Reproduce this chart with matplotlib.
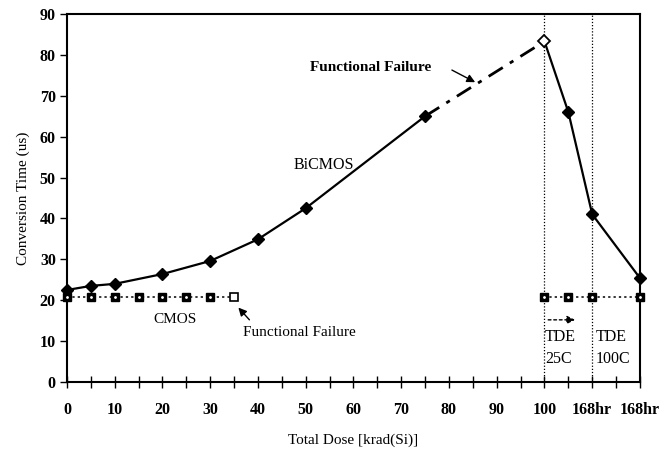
import matplotlib
matplotlib.use("Agg")
import matplotlib.pyplot as plt

plt.rcParams['font.family'] = ['Liberation Serif', 'DejaVu Serif']

# Data (x positions: 100 = 100 krad, 110 = TDE 25C 168hr, 120 = TDE 100C 168hr)
bicmos_x = [0, 5, 10, 20, 30, 40, 50, 75]
bicmos_y = [22.5, 23.5, 24.0, 26.4, 29.6, 34.9, 42.5, 65.0]
bicmos_fail_x = [75, 100]
bicmos_fail_y = [65.0, 83.3]
bicmos_tde_x = [100, 105, 110, 120]
bicmos_tde_y = [83.3, 66.0, 41.0, 25.4]

cmos_x = [0, 5, 10, 15, 20, 25, 30]
cmos_y = [20.7, 20.7, 20.7, 20.7, 20.7, 20.7, 20.7]
cmos_fail_x = [35]
cmos_fail_y = [20.7]
cmos_tde_x = [100, 105, 110, 120]
cmos_tde_y = [20.7, 20.7, 20.7, 20.7]

xtick_pos = [0, 10, 20, 30, 40, 50, 60, 70, 80, 90, 100, 110, 120]
xtick_labels = ['0', '10', '20', '30', '40', '50', '60', '70', '80', '90', '100', '168hr', '168hr']
yticks = [0, 10, 20, 30, 40, 50, 60, 70, 80, 90]

fig = plt.figure(figsize=(6.67, 4.51), dpi=100)
ax = fig.add_axes([0.1004, 0.153, 0.8591, 0.816])

# vertical TDE separators
for xv in [100, 110]:
    ax.axvline(xv, color='black', lw=0.9, ls=(0, (1, 1.5)), zorder=1)

# CMOS
ax.plot(cmos_x + cmos_fail_x, cmos_y + cmos_fail_y, color='black', lw=1.1,
        ls=(0, (1.5, 2)), zorder=2)
ax.plot(cmos_x, cmos_y, ls='none', marker='s', ms=6, mfc='black', mec='black',
        zorder=3, clip_on=False)
ax.plot(cmos_x, cmos_y, ls='none', marker='.', ms=2, color='white', zorder=4,
        clip_on=False)
ax.plot(cmos_fail_x, cmos_fail_y, ls='none', marker='s', ms=6, mfc='white',
        mec='black', mew=1.2, zorder=3)
ax.plot(cmos_tde_x, cmos_tde_y, color='black', lw=1.1, ls=(0, (1.5, 2)), zorder=2)
ax.plot(cmos_tde_x, cmos_tde_y, ls='none', marker='s', ms=6, mfc='black', mec='black',
        zorder=3, clip_on=False)
ax.plot(cmos_tde_x, cmos_tde_y, ls='none', marker='.', ms=2, color='white', zorder=4,
        clip_on=False)

# BiCMOS
ax.plot(bicmos_x, bicmos_y, color='black', lw=1.6, marker='D', ms=6,
        mfc='black', mec='black', zorder=3, clip_on=False)
ax.plot(bicmos_fail_x, bicmos_fail_y, color='black', lw=2.0,
        ls=(0, (6, 3, 1.5, 3)), zorder=3)
ax.plot(bicmos_tde_x, bicmos_tde_y, color='black', lw=1.6, zorder=3)
ax.plot(bicmos_tde_x[1:], bicmos_tde_y[1:], ls='none', marker='D', ms=6,
        mfc='black', mec='black', zorder=4, clip_on=False)
ax.plot(bicmos_tde_x[:1], bicmos_tde_y[:1], ls='none', marker='D', ms=6,
        mfc='white', mec='black', mew=1.3, zorder=4)

# Annotations
ax.text(50.8, 76.8, 'Functional Failure', fontsize=11, fontweight='bold',
        ha='left', va='center')
ax.annotate('', xy=(86.0, 73.0), xytext=(80.1, 76.6),
            arrowprops=dict(arrowstyle='-|>', color='black', lw=1.0,
                            mutation_scale=12))
ax.text(47.5, 53.0, 'BiCMOS', fontsize=11.5, ha='left', va='center')
ax.text(22.6, 15.4, 'CMOS', fontsize=11, ha='center', va='center')
ax.text(36.8, 12.2, 'Functional Failure', fontsize=11, ha='left', va='center')
ax.annotate('', xy=(35.5, 18.7), xytext=(38.6, 14.7),
            arrowprops=dict(arrowstyle='-|>', color='black', lw=1.0,
                            mutation_scale=12))
ax.annotate('', xy=(107.0, 15.2), xytext=(100.2, 15.2),
            arrowprops=dict(arrowstyle='-|>', color='black', lw=1.0,
                            ls=(0, (2, 2)), mutation_scale=12))
ax.text(100.1, 8.3, 'TDE\n25C', fontsize=11.5, ha='left', va='center',
        linespacing=1.45)
ax.text(110.8, 8.3, 'TDE\n100C', fontsize=11.5, ha='left', va='center',
        linespacing=1.45)

ax.set_xlim(0, 120)
ax.set_ylim(0, 90)
ax.set_xticks(xtick_pos)
ax.set_xticklabels(xtick_labels)
ax.set_xticks(list(range(5, 120, 10)), minor=True)
ax.set_yticks(yticks)
ax.tick_params(axis='x', which='both', direction='inout', length=9, width=1.0,
               pad=10, labelsize=11.5)
ax.tick_params(axis='y', direction='out', length=5, width=1.0, pad=3,
               labelsize=11.5)
for lab in ax.get_xticklabels() + ax.get_yticklabels():
    lab.set_fontweight('bold')
for s in ax.spines.values():
    s.set_linewidth(1.5)

ax.set_xlabel('Total Dose [krad(Si)]', fontsize=11, labelpad=11)
ax.set_ylabel('Conversion Time (us)', fontsize=11, labelpad=7)

fig.savefig('out.png', dpi=100)
